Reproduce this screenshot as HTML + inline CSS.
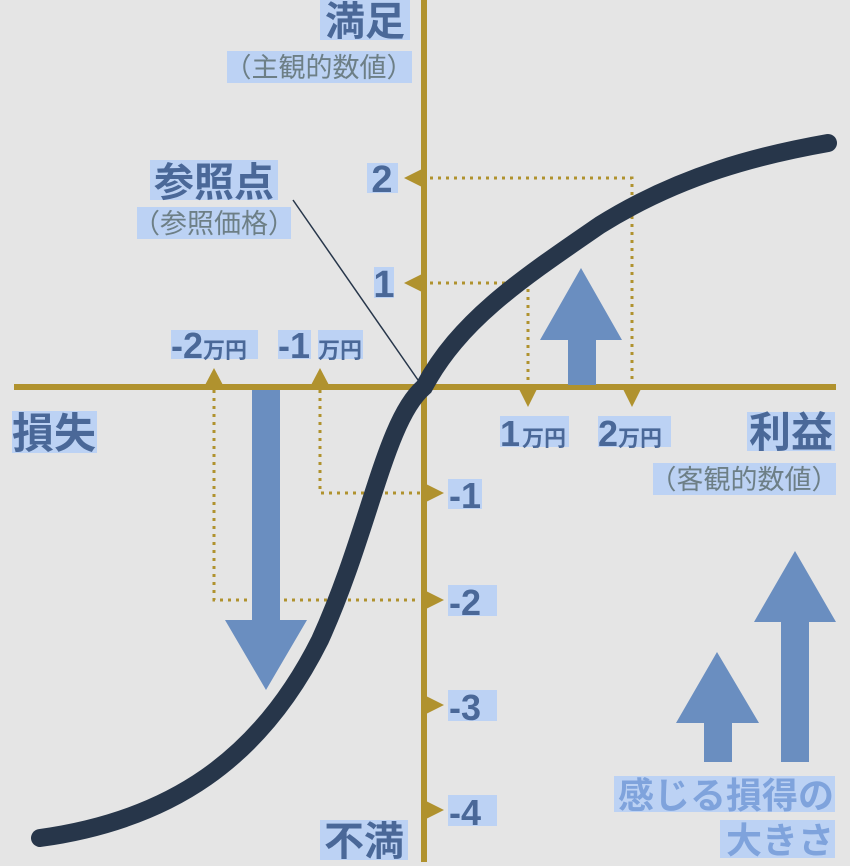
<!DOCTYPE html>
<html><head><meta charset="utf-8"><style>
html,body{margin:0;padding:0;background:#e5e5e5;}
svg{display:block}
text{font-family:"Liberation Sans","Noto Sans CJK JP",sans-serif;}
.b{font-weight:bold;fill:#4a6898}
.g{fill:#6d7f86}
.hl{fill:#bcd2f4}
</style></head><body>
<svg width="850" height="866" viewBox="0 0 850 866" xmlns="http://www.w3.org/2000/svg">
<rect width="850" height="866" fill="#e5e5e5"/>
<g class="hl">
<rect x="320" y="0" width="90" height="40"/>
<rect x="227" y="51" width="185" height="32"/>
<rect x="150" y="160" width="128" height="40"/>
<rect x="137" y="207" width="154" height="32"/>
<rect x="367" y="163" width="31" height="30"/>
<rect x="374" y="267" width="20" height="31"/>
<rect x="171" y="330" width="87" height="29"/>
<rect x="278" y="330" width="33" height="29"/>
<rect x="318" y="330" width="45" height="29"/>
<rect x="12" y="411" width="85" height="42"/>
<rect x="500" y="416" width="69" height="31"/>
<rect x="598" y="416" width="73" height="31"/>
<rect x="747" y="412" width="88" height="39"/>
<rect x="653" y="463" width="183" height="32"/>
<rect x="448" y="479" width="34" height="30"/>
<rect x="448" y="585" width="49" height="31"/>
<rect x="448" y="690" width="49" height="31"/>
<rect x="448" y="795" width="49" height="31"/>
<rect x="320" y="820" width="88" height="40"/>
<rect x="614" y="776" width="221" height="36"/>
<rect x="720" y="820" width="115" height="38"/>
</g>
<g stroke="#b0922e" stroke-width="3" stroke-dasharray="3,5" fill="none">
<path d="M430,178 H632 V387"/>
<path d="M430,283 H528 V387"/>
<path d="M214,390 V600 H420"/>
<path d="M320,390 V493 H420"/>
</g>
<rect x="421" y="0" width="6" height="862" fill="#b0922e"/>
<rect x="14" y="384" width="822" height="6" fill="#b0922e"/>
<g fill="#b0922e">
<polygon points="404,178 424,168 424,188"/>
<polygon points="404,283 424,273 424,293"/>
<polygon points="444,493 424,483 424,503"/>
<polygon points="444,600 424,590 424,610"/>
<polygon points="444,705 424,695 424,715"/>
<polygon points="444,810 424,800 424,820"/>
<polygon points="214,368 204,387 224,387"/>
<polygon points="320,368 310,387 330,387"/>
<polygon points="528,407 518,387 538,387"/>
<polygon points="632,407 622,387 642,387"/>
</g>
<g fill="#6a8ec0">
<polygon points="252,390 280,390 280,620 307,620 266,690 225,620 252,620"/>
<polygon points="568,385 596,385 596,340 622,340 581,268 540,340 568,340"/>
<polygon points="704,762 732,762 732,723 759,723 717,652 676,723 704,723"/>
<polygon points="781,762 809,762 809,622 836,622 795,551 754,622 781,622"/>
</g>
<line x1="293" y1="200" x2="418" y2="380" stroke="#27364a" stroke-width="1.5"/>
<path d="M40,838 C170,820 260,760 320,640 C370,530 385,420 424,387 C460,320 520,280 600,225 C680,175 760,155 828,143" fill="none" stroke="#27364a" stroke-width="18" stroke-linecap="round"/>
<text x="365" y="35" class="b" font-size="40" text-anchor="middle">満足</text>
<text x="319" y="77" class="g" font-size="27" text-anchor="middle">（主観的数値）</text>
<text x="214" y="196" class="b" font-size="40" text-anchor="middle">参照点</text>
<text x="214" y="233" class="g" font-size="27" text-anchor="middle">（参照価格）</text>
<text x="382" y="192" class="b" font-size="38" text-anchor="middle">2</text>
<text x="384" y="297" class="b" font-size="38" text-anchor="middle">1</text>
<text x="171" y="358" class="b" font-size="36">-2<tspan font-size="22">万円</tspan></text>
<text x="278" y="358" class="b" font-size="36">-1</text>
<text x="318" y="358" class="b" font-size="22">万円</text>
<text x="54" y="448" class="b" font-size="42" text-anchor="middle">損失</text>
<text x="500" y="446" class="b" font-size="36">1<tspan font-size="22" dx="2">万円</tspan></text>
<text x="598" y="446" class="b" font-size="36">2<tspan font-size="22">万円</tspan></text>
<text x="791" y="447" class="b" font-size="42" text-anchor="middle">利益</text>
<text x="744" y="489" class="g" font-size="27" text-anchor="middle">（客観的数値）</text>
<text x="449" y="508" class="b" font-size="36">-1</text>
<text x="449" y="615" class="b" font-size="36">-2</text>
<text x="449" y="720" class="b" font-size="36">-3</text>
<text x="449" y="825" class="b" font-size="36">-4</text>
<text x="364" y="855" class="b" font-size="40" text-anchor="middle">不満</text>
<text x="834" y="808" font-size="36" font-weight="bold" fill="#7fa3dc" text-anchor="end">感じる損得の</text>
<text x="834" y="853" font-size="36" font-weight="bold" fill="#7fa3dc" text-anchor="end">大きさ</text>
</svg>
</body></html>
